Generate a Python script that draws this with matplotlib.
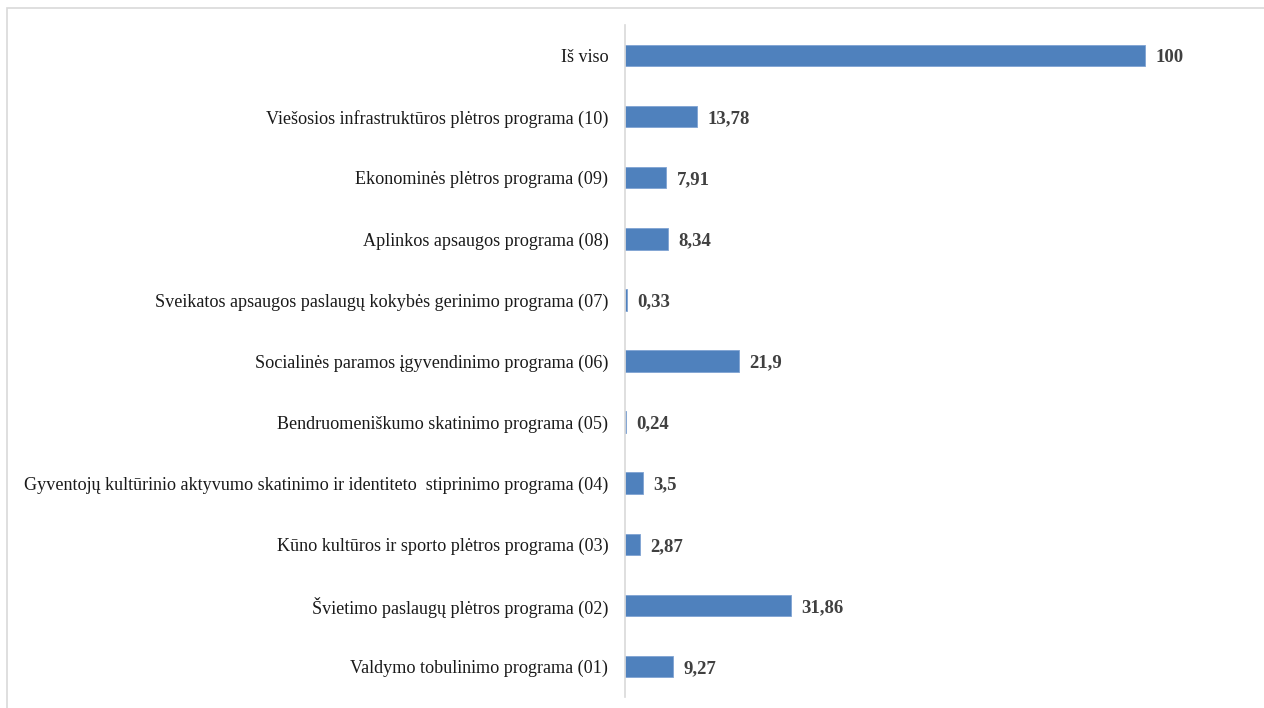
import matplotlib.pyplot as plt
from matplotlib.patches import Rectangle

plt.rcParams['font.family'] = ['Liberation Serif', 'DejaVu Serif']

# categories bottom -> top
categories = [
    'Valdymo tobulinimo programa (01)',
    'Švietimo paslaugų plėtros programa (02)',
    'Kūno kultūros ir sporto plėtros programa (03)',
    'Gyventojų kultūrinio aktyvumo skatinimo ir identiteto  stiprinimo programa (04)',
    'Bendruomeniškumo skatinimo programa (05)',
    'Socialinės paramos įgyvendinimo programa (06)',
    'Sveikatos apsaugos paslaugų kokybės gerinimo programa (07)',
    'Aplinkos apsaugos programa (08)',
    'Ekonominės plėtros programa (09)',
    'Viešosios infrastruktūros plėtros programa (10)',
    'Iš viso',
]
values = [9.27, 31.86, 2.87, 3.5, 0.24, 21.9, 0.33, 8.34, 7.91, 13.78, 100]
value_labels = ['9,27', '31,86', '2,87', '3,5', '0,24', '21,9', '0,33', '8,34', '7,91', '13,78', '100']

fig = plt.figure(figsize=(12.64, 7.08), dpi=100)
ax = fig.add_axes([625/1264, 1 - 697/708, 624/1264, 672/708])

y = range(len(categories))
ax.barh(y, values, height=0.35, color='#4F81BD', edgecolor='#7FA3D3', linewidth=0.6)

for yi, v, lab in zip(y, values, value_labels):
    ax.annotate(lab, (v, yi), xytext=(7.5, 0), textcoords='offset points',
                va='center_baseline', ha='left', fontsize=13.5, fontweight='bold', color='#404040')

ax.set_yticks(list(y))
ax.set_yticklabels(categories, fontsize=13.05, color='#1a1a1a', va='center_baseline')
ax.tick_params(axis='y', length=0, pad=12)
ax.set_xticks([])
ax.set_xlim(0, 120)
ax.set_ylim(-0.5, len(categories) - 0.5)

for s in ['top', 'right', 'bottom']:
    ax.spines[s].set_visible(False)
ax.spines['left'].set_color('#D9D9D9')
ax.spines['left'].set_linewidth(1.2)

# outer chart border
fig.patches.append(Rectangle((7/1264, -0.05), 1.1, 1 - 8/708 + 0.05, transform=fig.transFigure,
                             fill=False, edgecolor='#D9D9D9', linewidth=1.2))

fig.savefig('out.png', dpi=100)
